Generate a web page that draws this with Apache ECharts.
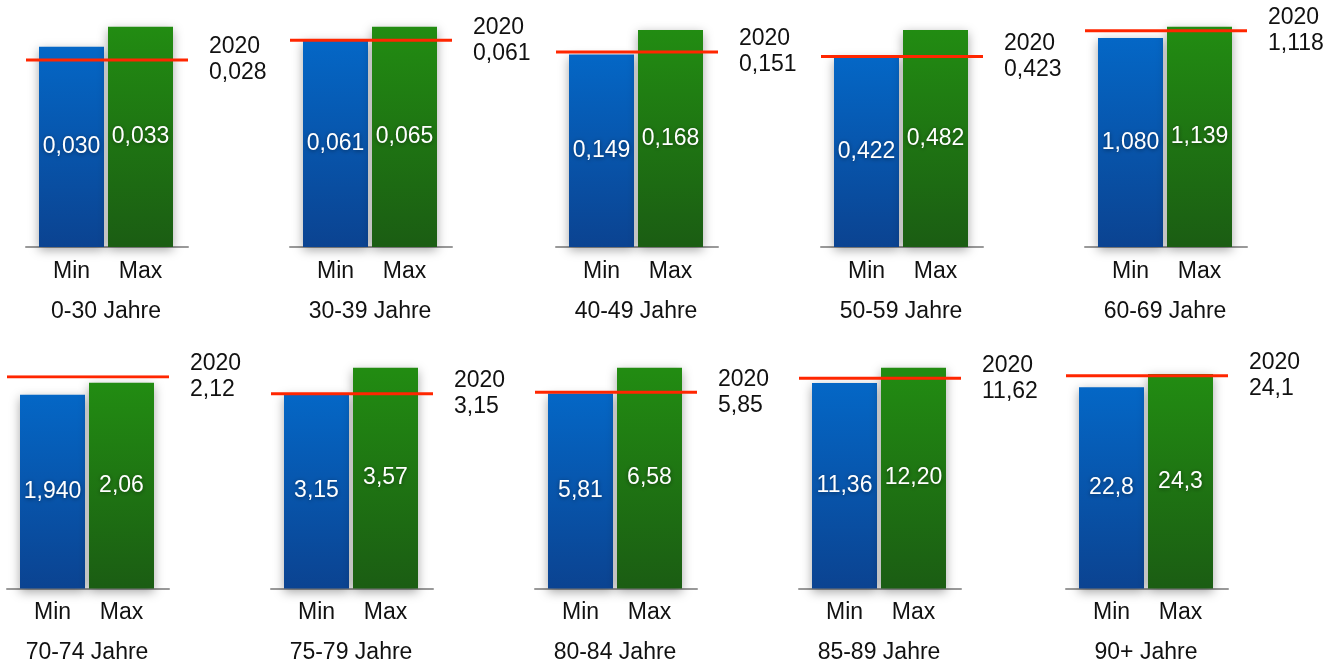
<!DOCTYPE html>
<html>
<head>
<meta charset="utf-8">
<script src="https://cdn.jsdelivr.net/npm/echarts@6/dist/echarts.min.js"></script>
<style>
  html, body { margin: 0; padding: 0; background: #fff; }
  #main { width: 1341px; height: 666px; }
</style>
</head>
<body>
<div id="main"></div>
<script>
const groups = ['0-30 Jahre', '30-39 Jahre', '40-49 Jahre', '50-59 Jahre', '60-69 Jahre',
    '70-74 Jahre', '75-79 Jahre', '80-84 Jahre', '85-89 Jahre', '90+ Jahre'];
const barNames = ['Min', 'Max'];
const minVals = ['0,030', '0,061', '0,149', '0,422', '1,080', '1,940', '3,15', '5,81', '11,36', '22,8'];
const maxVals = ['0,033', '0,065', '0,168', '0,482', '1,139', '2,06', '3,57', '6,58', '12,20', '24,3'];
const refYear = '2020';
const refVals = ['0,028', '0,061', '0,151', '0,423', '1,118', '2,12', '3,15', '5,85', '11,62', '24,1'];

// layout of the small panels (pixels)
const barLeft = [39, 303, 569, 834, 1098, 20, 284, 548, 812, 1079];
const plotTop = [26.7, 26.7, 30, 30, 26.7, 376.7, 367.7, 367.7, 367.7, 374];
const baseLine = [247, 588.5];

const FONT = "'Liberation Sans', Arial, sans-serif";
const FS = 23;
const num = s => parseFloat(s.replace(',', '.'));

const blue = new echarts.graphic.LinearGradient(0, 0, 0, 1, [
    { offset: 0, color: '#0467c6' },
    { offset: 1, color: '#0b4391' }
]);
const green = new echarts.graphic.LinearGradient(0, 0, 0, 1, [
    { offset: 0, color: '#228c12' },
    { offset: 1, color: '#1b5d13' }
]);

let grid = [], xAxis = [], yAxis = [], series = [];

for (let i = 0; i < groups.length; i++) {
    let row = i < 5 ? 0 : 1;
    let bottom = 666 - baseLine[row];
    let top = plotTop[i];
    let yMax = Math.max(num(minVals[i]), num(maxVals[i]), num(refVals[i]));
    let a = 2 * i, b = 2 * i + 1;

    grid.push({ left: barLeft[i] - 2, width: 138, top: top, bottom: bottom });
    grid.push({ left: barLeft[i] - 13, width: 162, top: top, bottom: bottom });

    xAxis.push({
        gridIndex: a,
        type: 'category',
        data: barNames,
        axisLine: { show: false },
        axisTick: { show: false },
        axisLabel: { margin: 13, fontSize: FS, color: '#111', fontFamily: FONT },
        name: groups[i],
        nameLocation: 'middle',
        nameGap: 53,
        nameTextStyle: { fontSize: FS, color: '#111', fontFamily: FONT }
    });
    xAxis.push({
        gridIndex: b,
        type: 'value',
        min: 0,
        max: 1,
        axisLine: { show: true, onZero: true, lineStyle: { color: '#999', width: 2 } },
        axisTick: { show: false },
        axisLabel: { show: false },
        splitLine: { show: false }
    });
    yAxis.push({ gridIndex: a, type: 'value', min: 0, max: yMax, show: false });
    yAxis.push({ gridIndex: b, type: 'value', min: 0, max: yMax, show: false });

    series.push({
        type: 'bar',
        xAxisIndex: a,
        yAxisIndex: a,
        barWidth: 65,
        data: [
            { value: num(minVals[i]), itemStyle: { color: blue } },
            { value: num(maxVals[i]), itemStyle: { color: green } }
        ],
        itemStyle: {
            shadowBlur: 10,
            shadowColor: 'rgba(0,0,0,0.35)',
            shadowOffsetY: 3
        },
        label: {
            show: true,
            position: 'inside',
            fontSize: FS,
            color: '#fff',
            fontFamily: FONT,
            textShadowBlur: 4,
            textShadowColor: 'rgba(0,0,0,0.45)',
            textShadowOffsetY: 1,
            formatter: p => p.dataIndex === 0 ? minVals[i] : maxVals[i]
        },
        emphasis: { disabled: true }
    });
    series.push({
        type: 'line',
        xAxisIndex: b,
        yAxisIndex: b,
        z: 5,
        symbol: 'none',
        silent: true,
        lineStyle: { color: '#ff2600', width: 3 },
        data: [[0, num(refVals[i])], [1, num(refVals[i])]],
        endLabel: {
            show: true,
            distance: 21,
            fontSize: FS,
            lineHeight: 26,
            color: '#111',
            fontFamily: FONT,
            formatter: () => refYear + '\n' + refVals[i]
        }
    });
}

let chart = echarts.init(document.getElementById('main'));
chart.setOption({
    animation: false,
    textStyle: { fontFamily: FONT },
    grid: grid,
    xAxis: xAxis,
    yAxis: yAxis,
    series: series
});
</script>
</body>
</html>
